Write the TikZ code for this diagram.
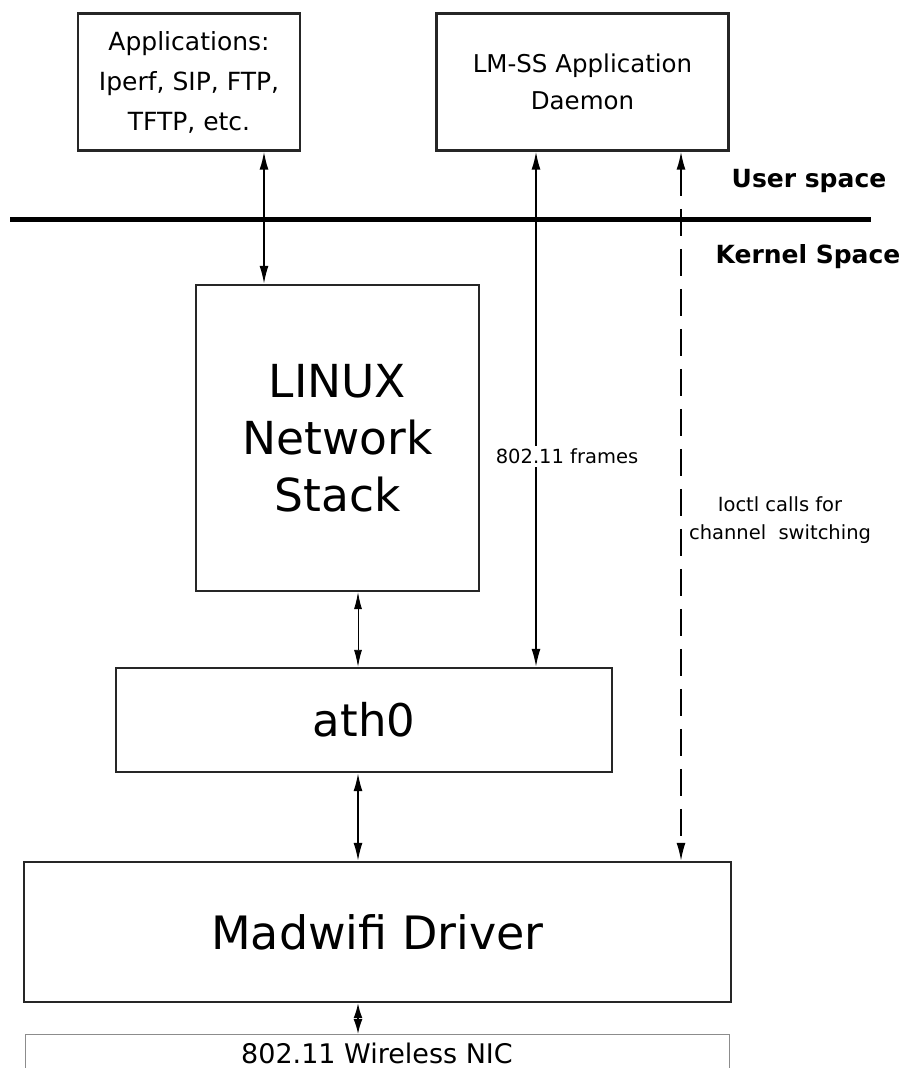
\documentclass[tikz,border=0pt]{standalone}
\usepackage{fontspec}
\setmainfont{DejaVu Sans}
\usetikzlibrary{arrows.meta}
\begin{document}
\begin{tikzpicture}[x=1pt,y=-1pt,
  box/.style={draw=black!85, line width=2.4pt, rectangle, inner sep=0pt, align=center},
  tipa/.tip={Latex[length=18pt,width=9pt]},
  arr/.style={line width=1.6pt, tipa-tipa},
  thinarr/.style={line width=0.9pt, {Latex[length=17pt,width=8pt]}-{Latex[length=17pt,width=8pt]}},
  dasharr/.style={line width=1.6pt, dash pattern=on 27pt off 13pt, tipa-tipa},
  nicarr/.style={line width=1.6pt, {Latex[length=15pt,width=9pt]}-{Latex[length=15pt,width=9pt]}},
  lab/.style={font=\fontsize{19.5}{28}\selectfont, align=center},
  space/.style={font=\fontsize{25}{30}\selectfont\bfseries}]
\clip (0,0) rectangle (904,1068);
\useasboundingbox (0,0) rectangle (904,1068);

\node[box, minimum width=222pt, minimum height=137pt, font=\fontsize{25}{40}\selectfont] (apps) at (189,82) {Applications:\\Iperf, SIP, FTP,\\TFTP, etc.};
\node[box, minimum width=292pt, minimum height=137pt, font=\fontsize{24.5}{37}\selectfont] (lmss) at (582.5,82) {LM-SS Application\\Daemon};
\node[box, minimum width=283pt, minimum height=306pt, font=\fontsize{45.5}{57}\selectfont] (linux) at (337.5,438) {LINUX\\Network\\Stack};
\node[box, minimum width=496pt, minimum height=104pt, font=\fontsize{45}{54}\selectfont] (ath) at (364,720) {ath0};
\node[box, minimum width=707pt, minimum height=140pt, font=\fontsize{46}{55}\selectfont] (mad) at (377.5,932) {Madwifi Driver};
\node[draw=black!45, line width=1pt, rectangle, anchor=north, minimum width=704pt, inner xsep=0pt, inner ysep=9pt, text height=20pt, text depth=40pt, font=\fontsize{27}{32}\selectfont] (nic) at (377,1034) {802.11 Wireless NIC};

\coordinate (L1) at (10,219);
\coordinate (L2) at (871,219);
\draw[line width=5pt] (L1) -- (L2);

\node[space] (us) at (809,181) {User space};
\node[space] (ks) at (808,257) {Kernel Space};

\coordinate (p1) at ([xshift=75pt]apps.south);
\coordinate (p2) at ([xshift=-46.5pt]lmss.south);
\coordinate (p3) at ([xshift=98.5pt]lmss.south);
\coordinate (p4) at ([xshift=20.5pt]linux.south);

\draw[arr] (p1) -- (p1 |- linux.north);
\draw[arr] (p2) -- node[lab, pos=0.592, xshift=31pt, fill=white, inner sep=3pt] (fr) {802.11 frames} (p2 |- ath.north);
\draw[dasharr] (p3) -- node[lab, pos=0.52, xshift=99pt] (io) {Ioctl calls for\\channel \ switching} (p3 |- mad.north);
\draw[thinarr] (p4) -- (p4 |- ath.north);
\draw[arr] (p4 |- ath.south) -- (p4 |- mad.north);
\draw[nicarr] (p4 |- mad.south) -- (p4 |- nic.north);
\end{tikzpicture}
\end{document}
